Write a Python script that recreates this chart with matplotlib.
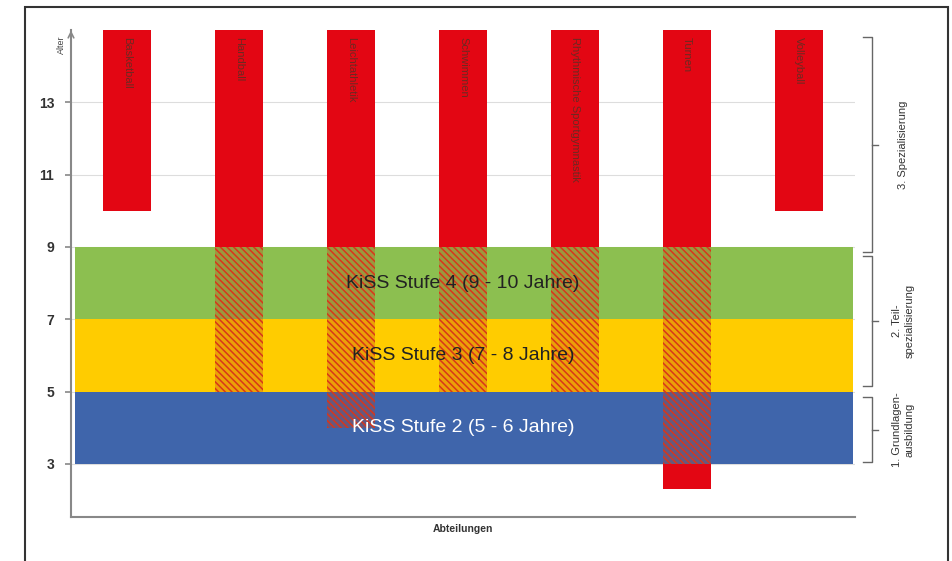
import numpy as np
import matplotlib
matplotlib.use('Agg')
import matplotlib.pyplot as plt
from matplotlib.patches import Rectangle

plt.rcParams['font.family'] = ['Liberation Sans', 'DejaVu Sans']
plt.rcParams['hatch.linewidth'] = 1.1

# Abteilungen und ab welchem Alter sie beginnen
abteilungen = ['Basketball', 'Handball', 'Leichtathletik', 'Schwimmen',
               'Rhythmische Sportgymnastik', 'Turnen', 'Volleyball']
start_alter = [10, 5, 4, 5, 5, 2.3, 10]
ende_alter = 15

# KiSS Stufen (Bänder)
stufen = ['KiSS Stufe 2 (5 - 6 Jahre)', 'KiSS Stufe 3 (7 - 8 Jahre)', 'KiSS Stufe 4 (9 - 10 Jahre)']
stufen_von = [3, 5, 7]
stufen_bis = [5, 7, 9]
stufen_farben = ['#3f65ab', '#ffcc00', '#8cbf50']
stufen_textfarbe = ['white', '#222222', '#222222']

# Phasen rechts (Klammern)
phasen = ['1. Grundlagen-\nausbildung', '2. Teil-\nspezialisierung', '3. Spezialisierung']
phasen_von = [3.05, 5.15, 8.85]
phasen_bis = [4.85, 8.75, 14.8]

rot = '#e30613'
x = np.arange(len(abteilungen))

fig = plt.figure(figsize=(9.53, 5.61), dpi=100)
ax = fig.add_axes([0.0745, 0.0784, 0.823, 0.868])

ax.set_xlim(-0.5, 6.5)
ax.set_ylim(1.53, 15.0)

# rote Balken
hoehe = [ende_alter - s for s in start_alter]
ax.bar(x, hoehe, bottom=start_alter, width=0.43, color=rot, zorder=2)

# farbige Bänder
for lo, hi, c in zip(stufen_von, stufen_bis, stufen_farben):
    ax.fill_between([-0.46, 6.48], lo, hi, color=c, zorder=3, linewidth=0)

# schraffierte Überlappung (nur innerhalb der Bänder)
unten, oben = min(stufen_von), max(stufen_bis)
ue_start = [max(s, unten) for s in start_alter]
ue_hoehe = [oben - s if s < oben else 0 for s in ue_start]
ax.bar(x, ue_hoehe, bottom=ue_start, width=0.43,
       facecolor=(0.75, 0.25, 0.1, 0.3), edgecolor='#d9361a', hatch='\\\\\\\\\\',
       linewidth=0, zorder=4)

# Texte in den Bändern
for lo, hi, txt, tc in zip(stufen_von, stufen_bis, stufen, stufen_textfarbe):
    ax.text(3.0, (lo + hi) / 2, txt, ha='center', va='center', fontsize=14,
            color=tc, zorder=6)

# Beschriftung der Balken
for xi, name in zip(x, abteilungen):
    ax.text(xi, 14.8, name, rotation=-90, ha='center', va='top', fontsize=8,
            color='#6b2a22', zorder=5)

# Klammern und Phasentexte rechts
for lo, hi, txt in zip(phasen_von, phasen_bis, phasen):
    xl, xv, xn = 6.57, 6.65, 6.70
    ax.plot([xl, xv, xv, xl], [hi, hi, lo, lo], color='#666666', lw=1.0, clip_on=False)
    ax.plot([xv, xn], [(lo + hi) / 2] * 2, color='#666666', lw=1.0, clip_on=False)
    ax.text(6.93, (lo + hi) / 2, txt, rotation=90, ha='center', va='center',
            fontsize=8, color='#333333', linespacing=1.3, clip_on=False)

# Achsen
ax.set_yticks([3, 5, 7, 9, 11, 13])
ax.set_xticks([])
ax.tick_params(axis='y', colors='#888888', length=4, width=1.2, labelsize=10,
               labelcolor='#333333', pad=8)
for lab in ax.get_yticklabels():
    lab.set_fontweight('bold')
ax.spines['right'].set_visible(False)
ax.spines['top'].set_visible(False)
ax.spines['left'].set_color('#888888')
ax.spines['bottom'].set_color('#888888')
ax.spines['left'].set_linewidth(1.5)
ax.spines['bottom'].set_linewidth(1.5)
ax.yaxis.grid(True, color='#dddddd', lw=0.8, zorder=0)
ax.set_axisbelow(True)

ax.annotate('', xy=(0, 1.005), xytext=(0, 0.96), xycoords='axes fraction',
            arrowprops=dict(arrowstyle='->', color='#888888', lw=1.2))
ax.text(-0.012, 0.97, 'Alter', rotation=90, ha='center', va='center', fontsize=6.5,
        color='#444444', transform=ax.transAxes)
ax.text(0.5, -0.025, 'Abteilungen', ha='center', va='center', fontsize=7.5,
        fontweight='bold', color='#333333', transform=ax.transAxes)

# Rahmen
fig.patches.append(Rectangle((0.026, -0.02), 0.9685, 1.0075, transform=fig.transFigure,
                             fill=False, edgecolor='#333333', lw=1.5))

fig.savefig('out.png', dpi=100)
